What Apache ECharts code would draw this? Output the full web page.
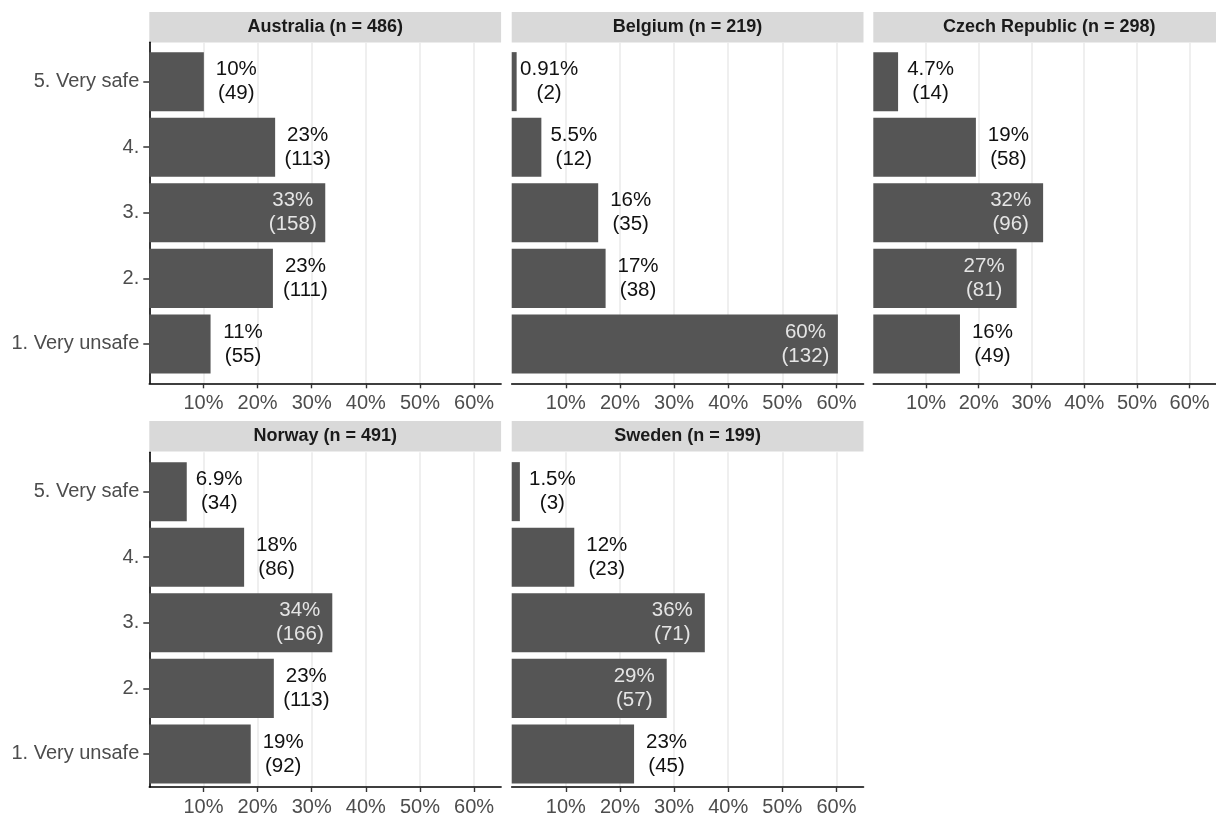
<!DOCTYPE html>
<html><head><meta charset="utf-8">
<script src="https://cdn.jsdelivr.net/npm/echarts@6/dist/echarts.min.js"></script>
<style>html,body{margin:0;padding:0;background:#fff}#chart{width:1216px;height:817px}</style>
</head><body><div id="chart"></div>
<script>
// ---------- data ----------
const categories = ['1. Very unsafe', '2.', '3.', '4.', '5. Very safe'];
const countries = ['Australia', 'Belgium', 'Czech Republic', 'Norway', 'Sweden'];
const sampleSizes = [486, 219, 298, 491, 199];
const australiaPct = [11.32, 22.84, 32.51, 23.25, 10.08];
const australiaCount = [55, 111, 158, 113, 49];
const belgiumPct = [60.27, 17.35, 15.98, 5.48, 0.913];
const belgiumCount = [132, 38, 35, 12, 2];
const czechPct = [16.44, 27.18, 32.21, 19.46, 4.70];
const czechCount = [49, 81, 96, 58, 14];
const norwayPct = [18.74, 23.01, 33.81, 17.52, 6.92];
const norwayCount = [92, 113, 166, 86, 34];
const swedenPct = [22.61, 28.64, 35.68, 11.56, 1.51];
const swedenCount = [45, 57, 71, 23, 3];
const xTicks = [10, 20, 30, 40, 50, 60];

const pctSeries = [australiaPct, belgiumPct, czechPct, norwayPct, swedenPct];
const countSeries = [australiaCount, belgiumCount, czechCount, norwayCount, swedenCount];

// ---------- layout / style ----------
const FONT = '"Liberation Sans", Arial, Helvetica, sans-serif';
const colLeft = [149.3, 511.7, 873.3];
const panelW = 351.8;
const stripTop = [12, 421];
const stripH = 30.5;
const plotTop = [42.3, 452.3];
const plotH = 341;
const xMax = 65;
const unit = plotH / 5.2;
const labelShift = 6 * panelW / xMax;
const insideThreshold = 25;
const BAR = '#555555';

const grids = [], xAxes = [], yAxes = [], series = [], graphics = [];

countries.forEach((country, i) => {
  const col = i % 3, row = Math.floor(i / 3);
  const left = colLeft[col];
  grids.push({left: left, top: plotTop[row], width: panelW, height: plotH});
  grids.push({left: left, top: plotTop[row] + 0.1 * unit, width: panelW, height: 5 * unit});
  const gBg = 2 * i, gBar = 2 * i + 1;

  xAxes.push({
    gridIndex: gBg, type: 'value', min: 0, max: xMax, interval: 10,
    axisLine: {show: true, onZero: false, lineStyle: {color: '#000', width: 1.6}},
    axisTick: {show: true, length: 5, customValues: xTicks, lineStyle: {color: '#333', width: 1.4}},
    axisLabel: {
      customValues: xTicks,
      formatter: v => (v > 0 && v < xMax) ? v + '%' : '',
      fontSize: 20, color: '#4D4D4D', margin: 10, fontFamily: FONT
    },
    splitLine: {show: true, lineStyle: {color: '#EBEBEB', width: 1.6}}
  });
  yAxes.push({
    gridIndex: gBg, type: 'value', min: 0, max: 1,
    axisLine: {show: col === 0, onZero: false, lineStyle: {color: '#000', width: 1.6}},
    axisTick: {show: false}, axisLabel: {show: false}, splitLine: {show: false}
  });

  xAxes.push({gridIndex: gBar, type: 'value', min: 0, max: xMax, show: false});
  yAxes.push({
    gridIndex: gBar, type: 'category', data: categories,
    axisLine: {show: false},
    axisTick: {show: col === 0, alignWithLabel: true, length: 6, lineStyle: {color: '#333', width: 1.5}},
    axisLabel: {show: col === 0, fontSize: 20, color: '#4D4D4D', margin: 10, fontFamily: FONT},
    splitLine: {show: false}
  });

  const pct = pctSeries[i], cnt = countSeries[i];
  series.push({
    type: 'bar', xAxisIndex: gBar, yAxisIndex: gBar,
    barCategoryGap: '10%',
    itemStyle: {color: BAR},
    data: pct.map((v, k) => {
      const inside = v > insideThreshold;
      return {
        value: v,
        label: {
          position: ['100%', '50%'],
          offset: [inside ? -labelShift : labelShift, 0],
          align: 'center', verticalAlign: 'middle',
          color: inside ? '#E5E5E5' : '#111111'
        }
      };
    }),
    label: {
      show: true, fontSize: 20.5, lineHeight: 24, fontFamily: FONT,
      formatter: p => Number(pct[p.dataIndex].toPrecision(2)) + '%\n(' + cnt[p.dataIndex] + ')'
    }
  });

  graphics.push({
    type: 'rect', shape: {x: left, y: stripTop[row], width: panelW, height: stripH},
    style: {fill: '#D9D9D9'}, silent: true
  });
  graphics.push({
    type: 'text', x: left + panelW / 2, y: stripTop[row] + stripH / 2,
    style: {
      text: country + ' (n = ' + sampleSizes[i] + ')',
      font: 'bold 18px ' + FONT, fill: '#1A1A1A',
      textAlign: 'center', textVerticalAlign: 'middle'
    }, silent: true
  });
});

const chart = echarts.init(document.getElementById('chart'));
chart.setOption({
  animation: false,
  backgroundColor: '#fff',
  grid: grids, xAxis: xAxes, yAxis: yAxes, series: series,
  graphic: graphics
});
</script></body></html>
